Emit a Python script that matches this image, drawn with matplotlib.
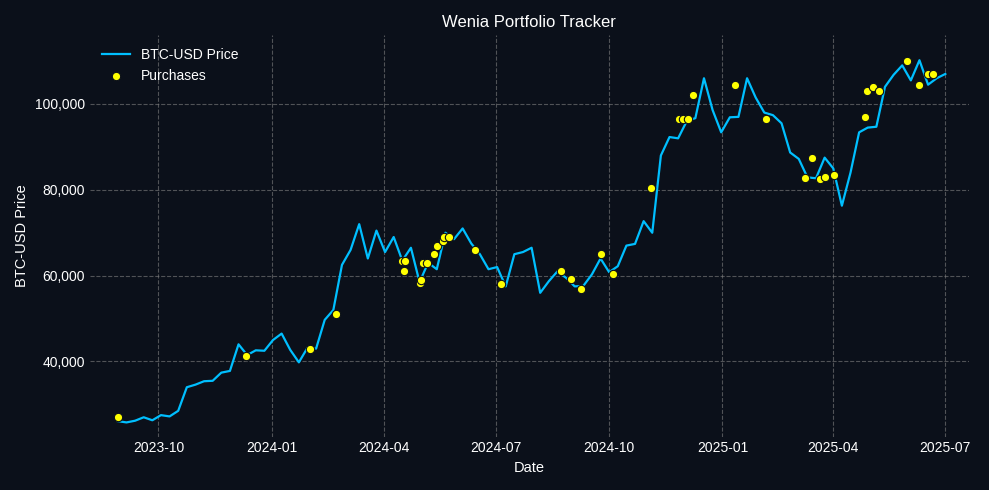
import matplotlib
matplotlib.use("Agg")
import matplotlib.pyplot as plt
import matplotlib.dates as mdates
import matplotlib.ticker as mticker
import pandas as pd

plt.rcParams["font.family"] = "Liberation Sans"

price_start = "2023-08-29"
prices = [26100, 25800, 26200, 27000, 26300, 27500, 27200, 28500, 34000, 34600,
          35400, 35500, 37400, 37800, 44000, 41500, 42600, 42500, 45000, 46500,
          42700, 39800, 43200, 43000, 49700, 52000, 62500, 66000, 72000, 64000,
          70500, 65500, 69000, 63500, 66500, 58500, 63000, 61500, 70000, 68500,
          71000, 67500, 65000, 61500, 62000, 57500, 65000, 65500, 66500, 56000,
          58700, 61000, 59500, 57500, 57600, 60300, 64000, 60800, 62200, 67000,
          67400, 72700, 70000, 88000, 92300, 92000, 96000, 96700, 106000, 98600,
          93400, 96900, 97000, 106000, 101500, 98000, 97400, 95500, 88700, 87200,
          82900, 82700, 87500, 85000, 76300, 84000, 93400, 94500, 94700, 104000,
          106800, 109000, 105500, 110200, 104500, 106000, 107000]

buy_dates = ["2023-08-29", "2023-12-11", "2024-02-01", "2024-02-22", "2024-04-16",
             "2024-04-17", "2024-04-18", "2024-04-30", "2024-05-01", "2024-05-03",
             "2024-05-06", "2024-05-12", "2024-05-14", "2024-05-19", "2024-05-20",
             "2024-05-24", "2024-06-14", "2024-07-05", "2024-08-23", "2024-08-31",
             "2024-09-08", "2024-09-24", "2024-10-04", "2024-11-04", "2024-11-27",
             "2024-11-30", "2024-12-04", "2024-12-08", "2025-01-11", "2025-02-05",
             "2025-03-09", "2025-03-15", "2025-03-21", "2025-03-25", "2025-04-02",
             "2025-04-27", "2025-04-28", "2025-05-03", "2025-05-08", "2025-05-31",
             "2025-06-10", "2025-06-17", "2025-06-21"]
buy_prices = [27000, 41200, 43000, 51000, 63500, 61000, 63500, 58200, 59000, 63000,
              63000, 65000, 66800, 68000, 69000, 69000, 66000, 58000, 61000, 59200,
              57000, 65000, 60300, 80500, 96500, 96500, 96500, 102000, 104500, 96500,
              82800, 87500, 82500, 83000, 83500, 97000, 103000, 104000, 103000, 110000,
              104500, 107000, 107000]

bg = "#0b101a"
dates = pd.date_range(price_start, periods=len(prices), freq="7D")
fig, ax = plt.subplots(figsize=(9.89, 4.9), dpi=100)
fig.patch.set_facecolor(bg)
ax.set_facecolor(bg)
ax.plot(dates, prices, color="#00bfff", lw=1.6, label="BTC-USD Price")
ax.scatter(pd.to_datetime(buy_dates), buy_prices, s=36, color="#ffff00",
           edgecolor=bg, linewidth=0.8, zorder=3, label="Purchases")
ax.grid(True, ls="--", color="#808080", alpha=0.6, lw=0.8)
for s in ax.spines.values():
    s.set_visible(False)
ax.tick_params(colors="white", labelsize=10, length=0)
ax.xaxis.set_major_locator(mdates.MonthLocator(bymonth=[1, 4, 7, 10]))
ax.xaxis.set_major_formatter(mdates.DateFormatter("%Y-%m"))
ax.yaxis.set_major_locator(mticker.MultipleLocator(20000))
ax.yaxis.set_major_formatter(mticker.FuncFormatter(lambda v, p: f"{v:,.0f}"))
ax.set_ylim(22500, 116000)
ax.set_xlim(pd.Timestamp("2023-08-06"), pd.Timestamp("2025-07-20"))
ax.set_xlabel("Date", color="white", fontsize=10.5)
ax.set_ylabel("BTC-USD Price", color="white", fontsize=10.5)
ax.set_title("Wenia Portfolio Tracker", color="white", fontsize=12)
leg = ax.legend(loc="upper left", frameon=False, fontsize=10)
for t in leg.get_texts():
    t.set_color("white")
fig.tight_layout()
fig.savefig("out.png", facecolor=bg)
